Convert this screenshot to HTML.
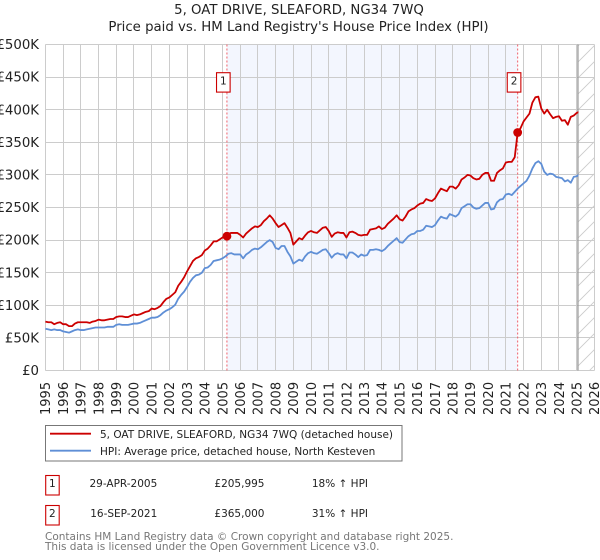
<!DOCTYPE html>
<html lang="en">
<head>
<meta charset="utf-8">
<title>5, OAT DRIVE, SLEAFORD, NG34 7WQ</title>
<style>
html,body{margin:0;padding:0;background:#fff;width:600px;height:560px;overflow:hidden}
svg{display:block;font-family:"DejaVu Sans","Liberation Sans",sans-serif}
</style>
</head>
<body>
<svg id="chart" xmlns="http://www.w3.org/2000/svg" width="600" height="560" viewBox="0 0 600 560">
  <defs>
    <pattern id="hatch" patternUnits="userSpaceOnUse" width="16" height="16">
      <path d="M-2 18L18 -2M-2 2L2 -2M14 18L18 14" stroke="#ccc" stroke-width="0.9" fill="none"/>
    </pattern>
    <clipPath id="plot-clip"><rect x="45" y="44" width="533.4" height="327"/></clipPath>
  </defs>
  <text x="299" y="14" font-size="13.3" text-anchor="middle" fill="#222">5, OAT DRIVE, SLEAFORD, NG34 7WQ</text>
  <text x="298.5" y="31" font-size="13.3" text-anchor="middle" fill="#222">Price paid vs. HM Land Registry's House Price Index (HPI)</text>
  <g id="plot"></g>

  <g>
    <rect x="45.5" y="425.5" width="356.5" height="35.5" fill="#fff" stroke="#777" stroke-width="1"/>
    <line x1="50" y1="433.7" x2="91" y2="433.7" stroke="#c00" stroke-width="1.8"/>
    <text x="100" y="438" font-size="10.5" fill="#222">5, OAT DRIVE, SLEAFORD, NG34 7WQ (detached house)</text>
    <line x1="50" y1="450.7" x2="91" y2="450.7" stroke="#5f8fd6" stroke-width="1.8"/>
    <text x="100" y="455" font-size="10.5" fill="#222">HPI: Average price, detached house, North Kesteven</text>
  </g>

  <g font-size="10.5" fill="#222">
    <rect x="45.7" y="475.5" width="13.5" height="19.5" fill="#fff" stroke="#c00" stroke-width="1.1"/>
    <text x="52.3" y="487" text-anchor="middle">1</text>
    <text x="157.3" y="487" text-anchor="end">29-APR-2005</text>
    <text x="264.5" y="487" text-anchor="end">£205,995</text>
    <text x="368" y="487" text-anchor="end">18% ↑ HPI</text>
    <rect x="45.7" y="505.5" width="13.5" height="19.5" fill="#fff" stroke="#c00" stroke-width="1.1"/>
    <text x="52.3" y="517" text-anchor="middle">2</text>
    <text x="157.3" y="517" text-anchor="end">16-SEP-2021</text>
    <text x="264.5" y="517" text-anchor="end">£365,000</text>
    <text x="368" y="517" text-anchor="end">31% ↑ HPI</text>
  </g>

  <text x="45" y="540" font-size="10.5" fill="#777">Contains HM Land Registry data © Crown copyright and database right 2025.</text>
  <text x="45" y="550" font-size="10.5" fill="#777">This data is licensed under the Open Government Licence v3.0.</text>
</svg>
<script>
var yearLabels = [1995,1996,1997,1998,1999,2000,2001,2002,2003,2004,2005,2006,2007,2008,2009,2010,2011,2012,2013,2014,2015,2016,2017,2018,2019,2020,2021,2022,2023,2024,2025,2026];
var priceTicks = [0,50,100,150,200,250,300,350,400,450,500];
var priceTickLabels = ['£0','£50K','£100K','£150K','£200K','£250K','£300K','£350K','£400K','£450K','£500K'];
var seriesStartYear = 1995;
var samplesPerYear = 6;
var priceSeries = [
75,74,74,71,73,74,
71,71,68,68,72,74,
74,74,74,73,75,76,
78,77,77,78,79,79,
82,83,83,82,82,84,
86,85,86,88,90,91,
95,94,96,99,105,110,
112,116,120,130,136,143,
152,160,168,172,174,177,
184,187,192,198,198,201,
204,206,210,211,211,211,
208,204,210,214,218,221,
220,223,229,233,238,233,
226,220,223,226,219,211,
193,198,203,201,207,212,
214,212,211,215,219,220,
214,205,210,212,211,211,
204,212,213,211,208,207,
208,208,216,217,218,221,
217,219,225,229,233,238,
232,230,236,244,247,249,
253,256,257,263,261,260,
264,272,279,277,275,282,
282,279,284,293,296,300,
299,295,293,294,300,303,
303,291,291,303,307,310,
319,320,320,327,365,372,
382,388,394,411,419,420,
402,394,400,393,387,389,
390,383,384,377,389,391,
395,397];
var hpiSeries = [
64,63,62,63,62,62,
60,59,58,60,62,63,
62,62,63,64,65,66,
66,66,66,67,67,67,
70,71,70,70,70,71,
72,72,73,75,77,79,
81,81,82,85,89,92,
94,97,101,110,116,121,
128,136,142,146,147,150,
157,158,162,168,169,170,
172,175,179,180,178,178,
178,172,178,181,185,187,
186,189,193,197,200,197,
188,186,191,191,182,175,
164,167,170,168,175,180,
182,180,179,182,185,186,
180,173,178,180,178,178,
172,181,181,178,174,178,
176,177,185,185,186,185,
183,186,191,195,199,203,
197,196,201,206,209,210,
214,214,216,222,221,220,
223,230,236,234,233,240,
238,236,240,249,252,255,
255,250,248,249,253,257,
257,247,248,258,262,263,
270,271,269,274,279,283,
287,291,299,310,318,321,
317,305,300,302,301,297,
296,295,290,292,288,297,
298,301];
var saleNumbers = ['1','2'];
var saleYears = [2005.25,2021.667];
var salePrices = [205.995,365];
var dataEndYear = 2025.07;

var NS = 'http://www.w3.org/2000/svg';
var plot = document.getElementById('plot');
function xAxis(year){ return 45.4 + (year - 1995) * (594.4 - 45.4) / 31; }
function yAxis(k){ return 370.5 - k * (370.5 - 44.5) / 500; }
function snap(v){ return Math.floor(v) + 0.5; }
function make(tag, attrs, parent){
  var el = document.createElementNS(NS, tag);
  for (var k in attrs) el.setAttribute(k, attrs[k]);
  (parent || plot).appendChild(el);
  return el;
}
var left = xAxis(1995), right = xAxis(2026), top_ = yAxis(500), bottom = yAxis(0);

var shade = make('rect', {x:xAxis(saleYears[0]), y:top_, width:xAxis(saleYears[1])-xAxis(saleYears[0]), height:bottom-top_, fill:'#f3f6fe'});



var hatch = make('rect', {x:xAxis(dataEndYear), y:top_, width:right-xAxis(dataEndYear), height:bottom-top_, fill:'url(#hatch)'});



priceTicks.forEach(function(t, i){
  var y = snap(yAxis(t));
  var g = make('line', {x1:left, x2:right, y1:y, y2:y, stroke:'#ccc', 'stroke-width':1});
  
  
  var lab = make('text', {x:39, y:yAxis(t)+4.6, 'font-size':13.3, 'text-anchor':'end', fill:'#222'});
  lab.textContent = priceTickLabels[i];
  
  
});

yearLabels.forEach(function(yr){
  var x = snap(xAxis(yr));
  var g = make('line', {x1:x, x2:x, y1:top_, y2:bottom, stroke:'#ccc', 'stroke-width':1});
  
  
  var lab = make('text', {x:0, y:0, 'font-size':13, 'text-anchor':'start', fill:'#222', transform:'translate(' + (xAxis(yr)+4.8) + ',415) rotate(-90)'});
  lab.textContent = yr;
  
  
});

var endLine = make('line', {x1:xAxis(dataEndYear), x2:xAxis(dataEndYear), y1:top_, y2:bottom, stroke:'#999', 'stroke-width':1.3});



saleYears.forEach(function(yr){
  var x = xAxis(yr);
  var d = make('line', {x1:x, x2:x, y1:top_, y2:bottom, stroke:'#f0606a', 'stroke-width':1, 'stroke-dasharray':'2 2'});
  
  
});

function pathFor(values){
  return values.map(function(v, i){
    return (i ? 'L' : 'M') + xAxis(seriesStartYear + i / samplesPerYear).toFixed(2) + ' ' + yAxis(v).toFixed(2);
  }).join('');
}
var hpiLine = make('path', {d:pathFor(hpiSeries), fill:'none', stroke:'#5f8fd6', 'stroke-width':1.8, 'stroke-linejoin':'round', 'clip-path':'url(#plot-clip)'});


var priceLine = make('path', {d:pathFor(priceSeries), fill:'none', stroke:'#c00', 'stroke-width':1.8, 'stroke-linejoin':'round', 'clip-path':'url(#plot-clip)'});



saleYears.forEach(function(yr, i){
  var pt = make('circle', {cx:xAxis(yr), cy:yAxis(salePrices[i]), r:4.4, fill:'#c00'});
  
  
  var cx = xAxis(yr) - 3.6;
  var box = make('rect', {x:cx-6.8, y:72.7, width:13.6, height:19.4, fill:'#fff', stroke:'#c00', 'stroke-width':1.1});
  
  
  var tx = make('text', {x:cx, y:84.5, 'font-size':10.5, 'text-anchor':'middle', fill:'#222'});
  tx.textContent = saleNumbers[i];
  
  
});
</script>
</body>
</html>
